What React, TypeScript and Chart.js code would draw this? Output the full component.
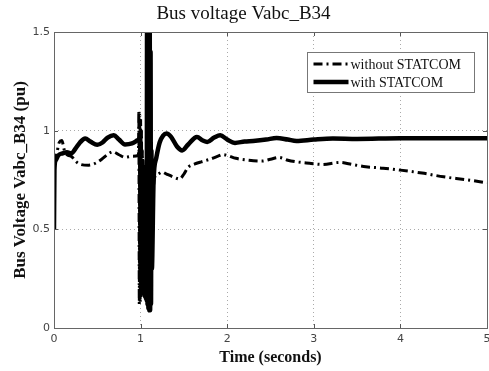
import React, { useEffect, useRef } from 'react';
import { Chart, registerables } from 'chart.js';

Chart.register(...registerables);

const titleText = 'Bus voltage Vabc_B34';
const xAxisLabel = 'Time (seconds)';
const yAxisLabel = 'Bus Voltage Vabc_B34 (pu)';
const seriesLabels = ['without STATCOM', 'with STATCOM'];
const xTickValues = [0, 1, 2, 3, 4, 5];
const yTickValues = [0, 0.5, 1, 1.5];

// with STATCOM (solid)
const withTime = [
  0, 0.005, 0.02, 0.05, 0.1, 0.15, 0.2, 0.25, 0.3, 0.36, 0.42, 0.5, 0.56, 0.62, 0.69, 0.75, 0.82, 0.9, 0.96, 0.995,
  1.0, 1.005, 1.01, 1.015, 1.02, 1.025, 1.03, 1.035, 1.04, 1.045, 1.05, 1.055, 1.06, 1.065, 1.07, 1.075,
  1.08, 1.085, 1.09, 1.095, 1.1, 1.105, 1.11, 1.115, 1.12, 1.125, 1.13, 1.15, 1.18, 1.22, 1.26, 1.3, 1.35, 1.42, 1.48,
  1.55, 1.65, 1.72, 1.77, 1.85, 1.92, 2.0, 2.09, 2.2, 2.3, 2.45, 2.57, 2.7, 2.8, 3.0, 3.22, 3.5, 4.0, 4.5, 5.0,
];
const withVolt = [
  0.5, 0.8, 0.85, 0.875, 0.885, 0.89, 0.885, 0.91, 0.94, 0.96, 0.945, 0.928, 0.94, 0.965, 0.977, 0.955, 0.93, 0.935, 0.95, 0.96,
  0.25, 0.85, 0.2, 0.84, 0.2, 0.82, 0.18, 0.8, 0.17, 0.78, 0.16, 0.75, 0.15, 0.7, 0.14, 1.6, 0.12,
  1.6, 0.1, 1.6, 0.09, 1.6, 0.09, 1.4, 0.12, 0.9, 0.3, 0.75, 0.86, 0.94, 0.975, 0.986, 0.97, 0.92, 0.9,
  0.93, 0.968, 0.95, 0.943, 0.965, 0.977, 0.955, 0.938, 0.945, 0.948, 0.955, 0.963, 0.955, 0.948, 0.955, 0.96, 0.958, 0.962, 0.962, 0.962,
];

// without STATCOM (dash-dot)
const withoutTime = [
  0, 0.03, 0.06, 0.09, 0.12, 0.16, 0.2, 0.25, 0.3, 0.4, 0.5, 0.55, 0.62, 0.68, 0.75, 0.82, 0.9, 0.975,
  0.98, 0.985, 0.99, 0.995, 1.0, 1.005, 1.01, 1.015, 1.02, 1.025, 1.03, 1.035, 1.04, 1.045, 1.05, 1.055, 1.06,
  1.065, 1.07, 1.075, 1.08, 1.085, 1.09, 1.095, 1.1, 1.11, 1.12,
  1.14, 1.16, 1.2, 1.25, 1.3, 1.38, 1.45, 1.5, 1.55, 1.62, 1.7, 1.8, 1.9, 1.95, 2.0, 2.1, 2.25, 2.4, 2.5, 2.6,
  2.7, 2.8, 2.95, 3.1, 3.3, 3.45, 3.6, 3.8, 4.0, 4.25, 4.5, 4.75, 5.0,
];
const withoutVolt = [
  0.84, 0.88, 0.94, 0.95, 0.9, 0.875, 0.87, 0.845, 0.83, 0.825, 0.84, 0.855, 0.88, 0.893, 0.878, 0.865, 0.87, 0.875,
  1.1, 0.12, 1.08, 0.13, 1.05, 0.15, 1.0, 0.18, 0.9, 0.2, 0.85, 0.2, 0.82, 0.22, 0.8, 0.22, 0.78,
  0.22, 0.75, 0.24, 0.72, 0.25, 0.7, 0.28, 0.65, 0.45, 0.55,
  0.65, 0.76, 0.78, 0.79, 0.78, 0.765, 0.755, 0.78, 0.815, 0.83, 0.842, 0.855, 0.872, 0.879, 0.875, 0.86, 0.85, 0.846, 0.855, 0.864,
  0.85, 0.842, 0.835, 0.829, 0.839, 0.828, 0.817, 0.81, 0.8, 0.785, 0.766, 0.752, 0.736,
];

const SERIF = '"Liberation Serif", "Times New Roman", serif';
const SANS = '"DejaVu Sans", sans-serif';
const DASH_DOT = [9, 4, 2, 4];

const framePlugin = {
  id: 'frameAndLegend',
  afterDraw(chart: any) {
    const { ctx, chartArea } = chart;
    const { left, right, top, bottom } = chartArea;
    ctx.save();
    ctx.setLineDash([]);
    ctx.strokeStyle = '#555';
    ctx.lineWidth = 1;
    const xs = chart.scales.x;
    const ys = chart.scales.y;
    xTickValues.forEach((v) => {
      const px = Math.round(xs.getPixelForValue(v)) + 0.5;
      ctx.beginPath();
      ctx.moveTo(px, bottom);
      ctx.lineTo(px, bottom - 4);
      ctx.moveTo(px, top);
      ctx.lineTo(px, top + 4);
      ctx.stroke();
    });
    yTickValues.forEach((v) => {
      const py = Math.round(ys.getPixelForValue(v)) + 0.5;
      ctx.beginPath();
      ctx.moveTo(left, py);
      ctx.lineTo(left + 4, py);
      ctx.moveTo(right, py);
      ctx.lineTo(right - 4, py);
      ctx.stroke();
    });
    ctx.strokeStyle = '#666';
    ctx.strokeRect(Math.round(left) + 0.5, Math.round(top) + 0.5, Math.round(right - left), Math.round(bottom - top));

    const bx = Math.round(right) - 180 + 0.5;
    const by = Math.round(top) + 20 + 0.5;
    const bw = 167;
    const bh = 40;
    ctx.fillStyle = '#fff';
    ctx.fillRect(bx, by, bw, bh);
    ctx.strokeStyle = '#777';
    ctx.lineWidth = 1;
    ctx.strokeRect(bx, by, bw, bh);

    const datasets = chart.data.datasets;
    const rows = [by + 11.5, by + 29.5];
    [0, 1].forEach((i) => {
      const ds = datasets[i];
      ctx.strokeStyle = '#000';
      ctx.lineWidth = ds.borderWidth;
      ctx.setLineDash(ds.borderDash || []);
      ctx.beginPath();
      ctx.moveTo(bx + 6, rows[i]);
      ctx.lineTo(bx + 41, rows[i]);
      ctx.stroke();
      ctx.setLineDash([]);
      ctx.fillStyle = '#111';
      ctx.font = `14px ${SERIF}`;
      ctx.textBaseline = 'middle';
      ctx.textAlign = 'left';
      ctx.fillText(ds.label, bx + 43, rows[i] + 1);
    });
    ctx.restore();
  },
};

export default function App() {
  const canvasRef = useRef<HTMLCanvasElement | null>(null);

  useEffect(() => {
    document.body.style.margin = '0';
    const canvas = canvasRef.current;
    if (!canvas) return;
    const chart = new Chart(canvas, {
      type: 'line',
      data: {
        datasets: [
          {
            label: seriesLabels[0],
            data: withoutTime.map((t, i) => ({ x: t, y: withoutVolt[i] })),
            borderColor: '#000',
            borderWidth: 3,
            borderDash: DASH_DOT,
            pointRadius: 0,
            fill: false,
            order: 2,
            cubicInterpolationMode: 'monotone',
          },
          {
            label: seriesLabels[1],
            data: withTime.map((t, i) => ({ x: t, y: withVolt[i] })),
            borderColor: '#000',
            borderWidth: 4.5,
            pointRadius: 0,
            fill: false,
            order: 1,
            cubicInterpolationMode: 'monotone',
          },
        ],
      },
      options: {
        responsive: false,
        animation: false,
        layout: { padding: { left: 0, right: 2, top: 0, bottom: 0 } },
        plugins: {
          legend: { display: false },
          tooltip: { enabled: false },
          title: {
            display: true,
            text: titleText,
            color: '#111',
            font: { family: SERIF, size: 19, weight: 'normal' },
            padding: { top: 3, bottom: 6.2 },
          },
        },
        scales: {
          x: {
            type: 'linear',
            min: 0,
            max: 5,
            afterBuildTicks: (scale: any) => {
              scale.ticks = xTickValues.map((v) => ({ value: v }));
            },
            afterFit: (scale: any) => {
              scale.height = 43;
              scale.paddingRight = 0;
              scale.paddingLeft = 0;
            },
            ticks: {
              color: '#444',
              font: { family: SANS, size: 11 },
              padding: 5,
              maxRotation: 0,
              callback: (v: any) => String(v),
            },
            grid: { color: '#aaa', lineWidth: 1, drawTicks: false },
            border: { display: false, dash: [1, 3] },
            title: {
              display: true,
              text: xAxisLabel,
              color: '#111',
              font: { family: SERIF, size: 16, weight: 'bold' },
              padding: { top: 0, bottom: 4 },
            },
          },
          y: {
            type: 'linear',
            min: 0,
            max: 1.5,
            afterBuildTicks: (scale: any) => {
              scale.ticks = yTickValues.map((v) => ({ value: v }));
            },
            afterFit: (scale: any) => {
              scale.width = 54;
              scale.paddingTop = 0;
              scale.paddingBottom = 0;
            },
            ticks: {
              color: '#444',
              font: { family: SANS, size: 11 },
              padding: 4,
              callback: (v: any) => String(v),
            },
            grid: { color: '#aaa', lineWidth: 1, drawTicks: false },
            border: { display: false, dash: [1, 3] },
            title: {
              display: true,
              text: yAxisLabel,
              color: '#111',
              font: { family: SERIF, size: 17, weight: 'bold' },
              padding: { top: 10, bottom: 0 },
            },
          },
        },
      },
      plugins: [framePlugin],
    });
    return () => chart.destroy();
  }, []);

  return <canvas ref={canvasRef} width={489} height={371} style={{ display: 'block', width: 489, height: 371 }} />;
}
